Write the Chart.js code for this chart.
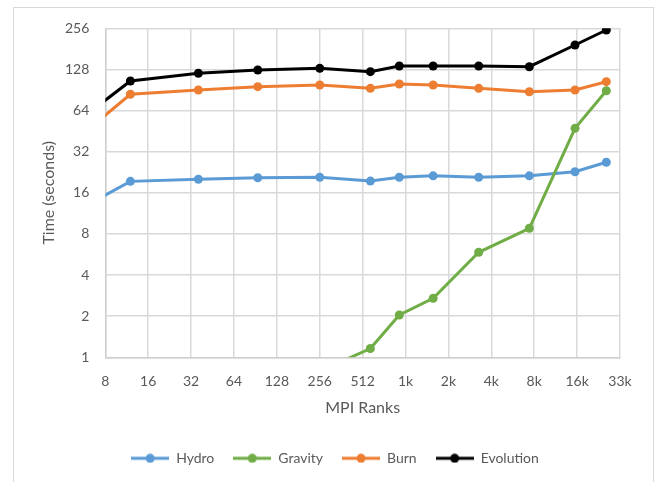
<!DOCTYPE html>
<html>
<head>
<meta charset="utf-8">
<script src="https://cdn.jsdelivr.net/npm/chart.js@4.4.1/dist/chart.umd.min.js"></script>
<style>
  html, body { margin: 0; padding: 0; background: #ffffff; }
  #wrap { width: 658px; height: 482px; }
</style>
</head>
<body>
<div id="wrap"><canvas id="chart" width="658" height="482"></canvas></div>
<script>
// MPI rank counts of each run
const ranks = [1, 12, 36, 94, 256, 580, 926, 1600, 3340, 7570, 15840, 26270];

// Wall-clock time (seconds) per component
const hydro     = [4.7, 19.4, 20.1, 20.6, 20.8, 19.5, 20.8, 21.3, 20.8, 21.3, 22.8, 26.8];
const gravity   = [null, null, null, null, 0.79, 1.16, 2.04, 2.70, 5.87, 8.80, 47.4, 89.4];
const burn      = [9.6, 84.2, 90.5, 95.7, 98.4, 93.1, 100.1, 98.4, 93.1, 87.9, 90.5, 104.1];
const evolution = [14.4, 105.3, 119.9, 126.8, 130.4, 123.2, 135.6, 135.6, 135.6, 134.0, 193.2, 248.8];

// Axis ticks (powers of two) and their labels
const xTickValues = [8, 16, 32, 64, 128, 256, 512, 1024, 2048, 4096, 8192, 16384, 32768];
const xTickLabels = ['8', '16', '32', '64', '128', '256', '512', '1k', '2k', '4k', '8k', '16k', '33k'];
const yTickValues = [1, 2, 4, 8, 16, 32, 64, 128, 256];
const yTickLabels = ['1', '2', '4', '8', '16', '32', '64', '128', '256'];

const seriesNames  = ['Hydro', 'Gravity', 'Burn', 'Evolution'];
const seriesValues = [hydro, gravity, burn, evolution];
const seriesColors = ['#5b9bd5', '#70ad47', '#ed7d31', '#000000'];

const TEXT = '#595959';
const FONT = 'Lato, "Open Sans", sans-serif';

function toPoints(values) {
  return ranks.map((r, i) => ({ x: r, y: values[i] }));
}

// Legend swatch: short line with a dot in the middle
function legendSwatch(color) {
  const c = document.createElement('canvas');
  c.width = 38; c.height = 10;
  const g = c.getContext('2d');
  g.strokeStyle = color; g.lineWidth = 3;
  g.beginPath(); g.moveTo(0, 5); g.lineTo(38, 5); g.stroke();
  g.fillStyle = color;
  g.beginPath(); g.arc(19, 5, 4.5, 0, Math.PI * 2); g.fill();
  return c;
}
const swatches = seriesColors.map(legendSwatch);

const datasets = seriesNames.map((name, i) => ({
  label: name,
  data: toPoints(seriesValues[i]),
  borderColor: seriesColors[i],
  backgroundColor: seriesColors[i],
  borderWidth: 3,
  pointRadius: 4.5,
  pointHoverRadius: 4.5,
  pointBorderWidth: 0,
  pointBackgroundColor: seriesColors[i],
  tension: 0,
  spanGaps: false,
  clip: 0,
  order: seriesNames.length - i
}));

// White page and the light frame around the chart
const framePlugin = {
  id: 'frame',
  beforeDraw(chart) {
    const ctx = chart.ctx;
    ctx.save();
    ctx.fillStyle = '#ffffff';
    ctx.fillRect(0, 0, chart.width, chart.height);
    ctx.strokeStyle = '#d9d9d9';
    ctx.lineWidth = 1;
    ctx.strokeRect(13.5, 7.5, 640, 480);
    ctx.restore();
  }
};

new Chart(document.getElementById('chart'), {
  type: 'line',
  data: { datasets },
  plugins: [framePlugin],
  options: {
    responsive: false,
    animation: false,
    devicePixelRatio: 1,
    layout: { padding: { left: 50, right: 38, top: 28.3, bottom: 6.7 } },
    plugins: {
      tooltip: { enabled: false },
      legend: {
        position: 'bottom',
        labels: {
          usePointStyle: true,
          pointStyleWidth: 38,
          padding: 19,
          color: TEXT,
          font: { family: FONT, size: 14 },
          generateLabels: () => seriesNames.map((name, i) => ({
            text: name,
            pointStyle: swatches[i],
            fillStyle: seriesColors[i],
            strokeStyle: seriesColors[i],
            lineWidth: 0,
            fontColor: TEXT,
            hidden: false,
            datasetIndex: i
          }))
        }
      }
    },
    scales: {
      x: {
        type: 'logarithmic',
        min: 8,
        max: 32768,
        afterBuildTicks: (scale) => { scale.ticks = xTickValues.map(v => ({ value: v })); },
        afterFit: (scale) => { scale.height = 75; },
        ticks: {
          autoSkip: false,
          maxRotation: 0,
          padding: 16,
          color: TEXT,
          font: { family: FONT, size: 14 },
          callback: (v, i) => xTickLabels[i]
        },
        grid: { color: '#d9d9d9', lineWidth: 1.5, drawTicks: false },
        border: { color: '#cfcfcf', width: 1.5 },
        title: {
          display: true,
          text: 'MPI Ranks',
          color: TEXT,
          font: { family: FONT, size: 16 },
          padding: { top: 0, bottom: 14.4 }
        }
      },
      y: {
        type: 'logarithmic',
        min: 1,
        max: 256,
        afterBuildTicks: (scale) => { scale.ticks = yTickValues.map(v => ({ value: v })); },
        afterFit: (scale) => { scale.width = 55.3; },
        ticks: {
          autoSkip: false,
          padding: 16,
          color: TEXT,
          font: { family: FONT, size: 14 },
          callback: (v, i) => yTickLabels[i]
        },
        grid: { color: '#d9d9d9', lineWidth: 1.5, drawTicks: false },
        border: { color: '#cfcfcf', width: 1.5 },
        title: {
          display: true,
          text: 'Time (seconds)',
          color: TEXT,
          font: { family: FONT, size: 16 },
          padding: { top: -10.6, bottom: 0 }
        }
      }
    }
  }
});
</script>
</body>
</html>
